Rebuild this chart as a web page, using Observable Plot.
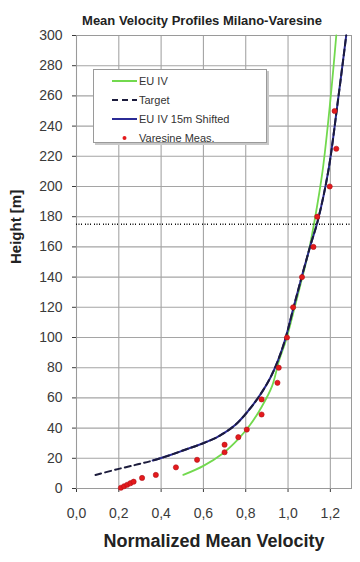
<!DOCTYPE html>
<html>
<head>
<meta charset="utf-8">
<script src="https://cdn.jsdelivr.net/npm/d3@7"></script>
<script src="https://cdn.jsdelivr.net/npm/@observablehq/plot@0.6"></script>
<style>
  html, body { margin: 0; padding: 0; background: #fff; }
  #wrap { position: relative; width: 360px; height: 562px; font-family: "Liberation Sans", Arial, sans-serif; }
  #legend { position: absolute; left: 93px; top: 69px; width: 174px; height: 74px; background: #fff;
            border: 1px solid #9a9a9a; box-shadow: 2px 2px 0 #c8c8c8; box-sizing: border-box; padding-top: 1px; }
  .row { display: flex; align-items: center; height: 19px; font-size: 11px; color: #333; }
  .row svg { margin-left: 18px; margin-right: 2px; }
</style>
</head>
<body>
<div id="wrap"></div>
<script>
// ---- data ----
const chartTitle = "Mean Velocity Profiles Milano-Varesine";
const xTitle = "Normalized Mean Velocity";
const yTitle = "Height [m]";
const xTicks = [0, 0.2, 0.4, 0.6, 0.8, 1.0, 1.2];
const yTicks = [0, 20, 40, 60, 80, 100, 120, 140, 160, 180, 200, 220, 240, 260, 280, 300];
const refHeight = [175];

// EU IV
const euX = [0.505, 0.60, 0.69, 0.76, 0.82, 0.875, 0.925, 0.958, 0.99, 1.035, 1.075, 1.102, 1.125, 1.163, 1.20, 1.228];
const euY = [9, 15, 23, 32, 42, 54, 68, 85, 98, 122, 144, 160, 177, 210, 257, 300];

// EU IV 15m Shifted
const shX = [0.36, 0.44, 0.51, 0.59, 0.665, 0.75, 0.815, 0.868, 0.915, 0.953, 0.985, 1.03, 1.072, 1.108, 1.14, 1.19, 1.236, 1.275];
const shY = [18.5, 22, 25.5, 29.5, 34, 42, 52, 62, 73, 85, 98, 122, 144, 162, 177, 210, 257, 300];

// Target
const tgX = [0.09, 0.2, 0.29, 0.36, 0.44, 0.51, 0.59, 0.665, 0.75, 0.815, 0.868, 0.915, 0.953, 0.985, 1.03, 1.072, 1.108, 1.14, 1.19, 1.236, 1.275];
const tgY = [9, 13, 16, 18.5, 22, 25.5, 29.5, 34, 42, 52, 62, 73, 85, 98, 122, 144, 162, 177, 210, 257, 300];

// Varesine Meas.
const msX = [0.21, 0.225, 0.24, 0.255, 0.27, 0.31, 0.375, 0.47, 0.57, 0.70, 0.70, 0.765, 0.805, 0.875, 0.875, 0.95, 0.956, 0.995, 1.024, 1.066, 1.12, 1.138, 1.197, 1.228, 1.22];
const msY = [0.5, 1.5, 2.5, 3.5, 4.5, 7, 9, 14, 19, 24, 29, 34, 39, 49, 59, 70, 80, 100, 120, 140, 160, 180, 200, 225, 250];

const seriesNames = ["EU IV", "Target", "EU IV 15m Shifted", "Varesine Meas."];
const colors = { green: "#72d94e", target: "#1c1c3c", shifted: "#2b2b96", meas: "#e41a1c" };

const zip = (xs, ys) => xs.map((x, i) => ({ x, y: ys[i] }));
const eu = zip(euX, euY), sh = zip(shX, shY), tg = zip(tgX, tgY), ms = zip(msX, msY);

const chart = Plot.plot({
  width: 360, height: 562,
  marginTop: 35, marginBottom: 74, marginLeft: 76, marginRight: 9,
  style: { fontFamily: "'Liberation Sans', Arial, sans-serif", fontSize: "14px", color: "#3a3a3a", background: "#fff", overflow: "visible" },
  x: { domain: [0, 1.3], ticks: xTicks, tickFormat: d => d.toFixed(1).replace(".", ","), tickSize: 4, tickPadding: 16, label: null },
  y: { domain: [0, 300], ticks: yTicks, tickSize: 4, tickPadding: 10, label: null },
  marks: [
    Plot.ruleX(xTicks, { stroke: "#a5a5a5", strokeWidth: 1.1 }),
    Plot.ruleY(yTicks, { stroke: "#a5a5a5", strokeWidth: 1.1 }),
    Plot.frame({ stroke: "#9a9a9a" }),
    Plot.line(eu, { x: "x", y: "y", stroke: colors.green, strokeWidth: 1.8, curve: "catmull-rom" }),
    Plot.line(sh, { x: "x", y: "y", stroke: colors.shifted, strokeWidth: 2, curve: "catmull-rom" }),
    Plot.line(tg, { x: "x", y: "y", stroke: colors.target, strokeWidth: 2, strokeDasharray: "6,4", curve: "catmull-rom" }),
    Plot.dot(ms, { x: "x", y: "y", r: 2.6, fill: colors.meas, stroke: "#b0101a", strokeWidth: 0.6 }),
    Plot.ruleY(refHeight, { stroke: "#111", strokeWidth: 1.5, strokeDasharray: "1,1.5,1,1.5,1,3", ariaLabel: "ref-line" }),
    Plot.text([chartTitle], { text: d => d, frameAnchor: "top", dy: -20, dx: -12, fontWeight: "bold", fontSize: 13, fill: "#222" }),
    Plot.text([xTitle], { text: d => d, frameAnchor: "bottom", dy: 58, fontWeight: "bold", fontSize: 18, fill: "#222" }),
    Plot.text([yTitle], { text: d => d, frameAnchor: "left", dx: -60, dy: 2, rotate: -90, fontWeight: "bold", fontSize: 15, fill: "#222" })
  ]
});

// extend the reference line across the full width, as in the reference
const ref = chart.querySelector('g[aria-label="ref-line"]');
if (ref) ref.querySelectorAll("line").forEach(l => { l.setAttribute("x1", 0); l.setAttribute("x2", 360); });

const wrap = document.getElementById("wrap");
wrap.appendChild(chart);

// legend
const legend = document.createElement("div");
legend.id = "legend";
const swatches = [
  `<line x1="0" y1="5" x2="25" y2="5" stroke="${colors.green}" stroke-width="2"/>`,
  `<line x1="0" y1="5" x2="25" y2="5" stroke="${colors.target}" stroke-width="2" stroke-dasharray="6,4"/>`,
  `<line x1="0" y1="5" x2="25" y2="5" stroke="${colors.shifted}" stroke-width="2"/>`,
  `<circle cx="12.5" cy="5" r="2" fill="${colors.meas}"/>`
];
seriesNames.forEach((name, i) => {
  const row = document.createElement("div");
  row.className = "row";
  row.innerHTML = `<svg width="25" height="10">${swatches[i]}</svg><span>${name}</span>`;
  legend.appendChild(row);
});
wrap.appendChild(legend);
</script>
</body>
</html>
